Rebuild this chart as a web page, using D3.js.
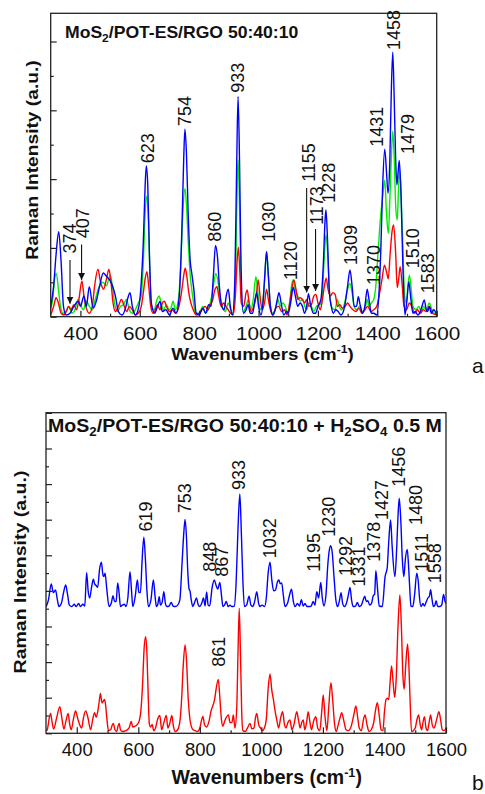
<!DOCTYPE html>
<html>
<head>
<meta charset="utf-8">
<script src="https://cdnjs.cloudflare.com/ajax/libs/d3/7.8.5/d3.min.js"></script>
<style>
    body { margin: 0; background: #fff; }
    svg { display: block; }
    .peak { font-family: "Liberation Sans", Arial, sans-serif; font-size: 18px; fill: #111; }
    .bold { font-family: "Liberation Sans", Arial, sans-serif; font-weight: bold; fill: #111; }
</style>
</head>
<body>
<div id="chart"></div>
<script>

// ---- panel a : three spectra, [wavenumber, intensity] ----
const topBlue = [[300,0.3],[310,0.9],[318,1.8],[327,2.47],[335,1.6],[343,0.3],[352,0.05],[365,0.1],[378,0.3],[393,0.45],[400,0.3],[412,0.6],[420,0.3],[430,0.87],[443,0.25],[455,0.5],[465,0.9],[477,1.27],[490,1.15],[500,1.05],[510,0.85],[518,0.6],[528,0.15],[540,0.05],[552,0.25],[560,0.55],[567,0.7],[575,0.3],[585,0.05],[597,0.3],[605,1.0],[612,2.2],[618,3.8],[622,4.38],[627,3.8],[632,2.0],[639,0.4],[650,0.1],[660,0.3],[668,0.44],[676,0.15],[688,0.2],[700,0.05],[712,0.25],[722,0.1],[733,0.6],[742,2.6],[748,4.6],[752,5.45],[757,4.8],[763,3.0],[770,1.6],[775,1.27],[782,0.8],[790,0.1],[800,0.05],[812,0.25],[822,0.1],[832,0.35],[840,0.3],[848,1.2],[855,2.07],[862,1.7],[868,0.9],[876,0.3],[884,0.2],[891,0.6],[898,0.8],[905,0.3],[912,0.05],[920,1.0],[926,4.2],[931,6.4],[936,4.5],[941,1.5],[949,0.1],[958,0.2],[965,0.35],[972,0.1],[980,0.1],[988,0.5],[994,0.7],[1000,0.3],[1008,0.05],[1015,0.4],[1021,1.2],[1027,1.89],[1033,1.2],[1040,0.3],[1048,0.05],[1056,0.2],[1062,0.45],[1069,0.7],[1076,0.4],[1085,0.05],[1095,0.15],[1100,0.1],[1108,0.4],[1117,0.85],[1124,0.6],[1132,0.3],[1140,0.4],[1148,0.3],[1155,0.1],[1162,0.3],[1168,0.67],[1175,0.35],[1185,0.1],[1192,0.1],[1200,0.3],[1210,0.5],[1218,1.5],[1224,2.8],[1227,3.1],[1232,2.3],[1238,0.8],[1245,0.3],[1252,0.1],[1260,0.2],[1268,0.15],[1278,0.05],[1290,0.3],[1300,0.9],[1308,1.36],[1315,0.9],[1322,0.3],[1330,0.3],[1336,0.58],[1342,0.35],[1350,0.1],[1358,0.3],[1366,0.8],[1372,0.5],[1380,0.1],[1388,0.1],[1398,0.05],[1405,0.6],[1412,2.0],[1418,3.8],[1425,4.87],[1431,4.2],[1436,3.59],[1442,4.5],[1447,6.5],[1452,7.69],[1457,6.3],[1462,4.5],[1466,3.83],[1470,4.2],[1474,4.54],[1480,3.5],[1486,1.5],[1493,0.05],[1500,0.5],[1506,1.02],[1512,0.6],[1520,0.1],[1528,0.15],[1536,0.05],[1545,0.15],[1552,0.35],[1558,0.49],[1565,0.2],[1570,0.15],[1575,0.3],[1582,0.1],[1590,0.2],[1600,0.05]];

const topGreen = [[300,0.2],[308,0.6],[313,1.1],[319,1.26],[326,0.8],[333,0.3],[342,0.1],[352,0.15],[362,0.3],[372,0.1],[382,0.2],[392,0.5],[400,0.35],[410,0.2],[420,0.45],[430,0.3],[440,0.2],[450,0.5],[462,0.85],[475,1.0],[488,0.9],[500,1.21],[508,0.9],[515,0.4],[525,0.15],[535,0.3],[545,0.35],[555,0.5],[565,0.2],[575,0.1],[585,0.2],[595,0.4],[605,0.6],[612,1.6],[618,3.0],[624,3.51],[629,2.8],[634,1.2],[640,0.3],[648,0.2],[658,0.5],[665,0.6],[672,0.4],[680,0.2],[690,0.35],[698,0.2],[705,0.25],[712,0.45],[720,0.2],[730,0.5],[738,1.5],[745,3.0],[752,3.73],[757,3.3],[763,2.2],[770,1.2],[778,0.6],[788,0.1],[800,0.1],[812,0.3],[822,0.1],[832,0.25],[840,0.5],[848,0.9],[856,1.26],[862,1.1],[870,0.6],[878,0.3],[888,0.15],[898,0.4],[906,0.2],[914,0.1],[922,1.0],[927,3.3],[931,4.56],[936,3.2],[941,1.0],[948,0.15],[958,0.3],[966,0.5],[974,0.2],[982,0.5],[991,1.16],[998,0.7],[1005,0.2],[1012,0.3],[1020,1.0],[1027,1.89],[1033,1.2],[1040,0.3],[1048,0.1],[1058,0.25],[1066,0.5],[1072,0.3],[1082,0.4],[1090,0.3],[1098,0.1],[1106,0.5],[1112,0.95],[1117,1.07],[1124,0.8],[1132,0.6],[1140,0.45],[1148,0.5],[1156,0.3],[1162,0.2],[1170,0.4],[1178,0.3],[1186,0.15],[1195,0.3],[1205,0.35],[1213,0.4],[1220,1.5],[1227,2.38],[1233,1.8],[1240,0.6],[1248,0.25],[1258,0.2],[1265,0.5],[1272,0.3],[1280,0.2],[1290,0.4],[1300,0.8],[1308,0.97],[1315,0.7],[1322,0.3],[1332,0.2],[1340,0.3],[1350,0.15],[1358,0.2],[1366,0.5],[1372,0.3],[1380,0.4],[1388,0.5],[1395,0.9],[1402,1.8],[1410,2.8],[1418,3.5],[1425,3.97],[1431,3.0],[1437,2.42],[1443,3.6],[1448,4.8],[1452,5.4],[1457,4.6],[1462,3.2],[1467,2.81],[1471,3.6],[1475,4.3],[1480,3.6],[1486,2.0],[1492,0.6],[1498,0.4],[1503,0.9],[1508,1.21],[1514,0.8],[1520,0.3],[1530,0.2],[1540,0.3],[1548,0.15],[1556,0.3],[1565,0.2],[1575,0.4],[1582,0.25],[1590,0.1],[1600,0.1]];

const topRed = [[300,0.05],[310,0.3],[318,0.55],[326,0.4],[335,0.1],[345,0.05],[352,0.15],[360,0.3],[368,0.2],[378,0.35],[387,0.2],[395,0.5],[405,1.04],[412,0.6],[420,0.25],[430,0.1],[440,0.3],[448,0.9],[459,1.38],[468,1.0],[478,0.8],[488,1.1],[496,1.38],[503,1.0],[510,0.4],[518,0.15],[528,0.3],[538,0.5],[548,0.3],[556,0.15],[565,0.3],[575,0.2],[585,0.05],[595,0.1],[605,0.3],[612,0.7],[618,1.1],[624,1.31],[630,0.9],[637,0.3],[645,0.1],[652,0.2],[660,0.35],[668,0.2],[676,0.4],[683,0.45],[690,0.3],[700,0.15],[710,0.2],[720,0.1],[732,0.3],[742,0.8],[748,1.2],[753,1.41],[758,1.2],[765,0.7],[772,0.4],[780,0.2],[790,0.05],[800,0.1],[810,0.2],[820,0.3],[830,0.2],[838,0.35],[846,0.5],[852,0.75],[860,0.87],[866,0.6],[874,0.3],[882,0.4],[890,0.3],[898,0.2],[906,0.1],[914,0.05],[922,0.6],[927,1.5],[932,2.02],[937,1.3],[942,0.4],[950,0.3],[958,0.7],[962,0.78],[968,0.4],[975,0.15],[984,0.3],[992,0.6],[999,1.07],[1005,0.6],[1012,0.2],[1020,0.4],[1027,0.8],[1033,0.5],[1040,0.2],[1048,0.05],[1058,0.25],[1068,0.3],[1078,0.15],[1088,0.2],[1096,0.05],[1105,0.4],[1112,0.8],[1119,1.07],[1126,0.8],[1133,0.5],[1140,0.55],[1148,0.5],[1155,0.4],[1162,0.5],[1170,0.3],[1178,0.35],[1186,0.6],[1193,0.65],[1200,0.4],[1208,0.2],[1215,0.5],[1222,0.9],[1228,1.12],[1234,0.8],[1242,0.6],[1250,0.7],[1258,0.65],[1266,0.3],[1274,0.35],[1282,0.25],[1292,0.3],[1300,0.4],[1308,0.3],[1318,0.2],[1328,0.15],[1338,0.25],[1348,0.1],[1358,0.2],[1368,0.3],[1378,0.15],[1388,0.2],[1398,0.3],[1408,0.7],[1416,1.1],[1424,1.5],[1431,1.3],[1437,1.1],[1443,1.8],[1450,2.5],[1455,2.67],[1462,1.8],[1467,0.85],[1472,1.1],[1477,1.45],[1483,1.0],[1490,0.3],[1498,0.2],[1508,0.4],[1516,0.3],[1525,0.1],[1535,0.2],[1545,0.1],[1555,0.2],[1565,0.15],[1575,0.3],[1585,0.1],[1600,0.05]];

// peak labels panel a: [text, wavenumber, intensity where text starts]
const topPeakLabels = [["374",362,1.84],["407",407,2.28],["623",626,4.46],["754",751,5.54],["860",851,2.18],["933",929,6.51],["1030",1035,2.18],["1120",1106,1.07],["1155",1168,3.92],["1173",1194,2.67],["1228",1236,3.31],["1309",1311,1.5],["1370",1387,0.92],["1431",1398,4.94],["1458",1453,7.75],["1479",1502,4.73],["1510",1519,1.41],["1583",1569,0.68]];
// arrows panel a: [wavenumber, from, to]
const topArrows = [[365,1.65,0.38],[404,2.1,1.07],[1162,3.74,0.7],[1192,2.55,0.75]];

// ---- panel b : two spectra, blue offset upward ----
const botBlue = [[300,7.1],[308,7.5],[317,8.39],[324,7.9],[331,8.05],[337,7.5],[342,7.12],[350,7.3],[357,7.9],[364,8.33],[370,7.8],[376,7.2],[384,7.12],[392,7.25],[398,7.12],[406,7.3],[412,7.12],[420,7.25],[426,7.15],[432,9.02],[437,8.0],[442,7.6],[448,8.2],[454,8.65],[458,8.4],[463,8.3],[468,8.2],[474,9.2],[480,9.61],[485,8.9],[488,8.8],[492,9.0],[497,8.2],[505,7.12],[512,7.3],[518,7.73],[523,7.4],[528,7.4],[533,8.45],[538,7.8],[542,7.12],[548,7.2],[555,7.25],[560,7.12],[566,7.6],[573,9.08],[578,8.0],[582,7.12],[590,7.7],[597,8.61],[602,7.9],[607,7.9],[612,9.6],[618,11.01],[623,9.8],[628,8.0],[633,7.12],[641,7.5],[649,8.61],[655,7.6],[659,7.12],[664,7.3],[668,7.68],[672,7.2],[678,7.4],[683,7.96],[688,7.3],[693,7.12],[700,7.15],[707,7.35],[713,7.15],[720,7.12],[728,7.2],[735,7.5],[742,9.5],[748,11.3],[752,12.02],[756,11.2],[761,9.0],[765,8.1],[768,8.0],[772,7.5],[777,7.12],[782,7.3],[789,7.6],[795,7.2],[800,7.12],[806,7.3],[812,7.6],[817,7.15],[822,7.94],[827,7.2],[832,7.15],[840,8.2],[847,8.61],[853,8.3],[858,8.1],[865,8.47],[870,7.8],[875,7.12],[880,7.2],[886,7.4],[892,7.12],[898,7.2],[904,7.12],[912,7.15],[918,8.5],[924,11.5],[930,13.44],[935,11.2],[940,8.5],[945,7.12],[952,7.2],[960,7.7],[966,7.2],[972,7.12],[978,7.4],[985,7.96],[991,7.3],[995,7.12],[1002,7.2],[1010,7.12],[1016,7.6],[1022,9.0],[1028,9.61],[1034,8.6],[1040,8.0],[1046,8.05],[1052,8.5],[1057,8.61],[1061,8.4],[1066,8.45],[1071,7.8],[1077,7.12],[1085,7.3],[1092,7.8],[1098,8.1],[1104,7.4],[1110,7.12],[1117,7.3],[1124,7.15],[1130,7.5],[1136,7.15],[1142,7.3],[1148,7.12],[1155,7.12],[1162,7.15],[1168,7.4],[1174,7.2],[1180,7.96],[1186,7.6],[1193,8.47],[1198,7.6],[1203,7.15],[1210,7.8],[1216,9.5],[1222,10.4],[1225,10.54],[1230,10.2],[1236,8.8],[1242,7.5],[1248,7.12],[1253,7.4],[1259,7.9],[1264,7.3],[1270,7.12],[1278,7.4],[1283,7.8],[1288,8.2],[1293,7.5],[1298,7.12],[1306,7.15],[1312,7.35],[1318,7.12],[1325,7.2],[1331,7.5],[1336,7.7],[1341,7.4],[1346,7.45],[1352,7.2],[1358,7.3],[1364,7.75],[1368,7.8],[1372,9.13],[1378,8.0],[1383,7.15],[1393,7.12],[1402,8.8],[1409,9.3],[1414,10.8],[1420,11.98],[1425,10.5],[1434,8.8],[1440,10.5],[1444,12.2],[1448,13.2],[1453,12.0],[1458,9.8],[1463,8.8],[1468,9.8],[1474,10.33],[1478,9.5],[1482,8.2],[1486,7.15],[1492,7.12],[1498,7.8],[1505,9.0],[1510,8.5],[1514,7.6],[1519,7.12],[1525,7.3],[1530,7.15],[1536,7.4],[1541,7.6],[1546,7.7],[1550,8.06],[1554,7.6],[1559,7.12],[1564,7.2],[1568,7.45],[1573,7.12],[1580,7.12],[1586,7.2],[1592,7.8],[1597,7.4],[1600,7.3]];

const botRed = [[300,0.15],[304,0.2],[310,0.8],[315,1.12],[320,0.6],[325,0.24],[335,0.9],[345,1.5],[352,0.8],[358,0.24],[365,0.7],[372,1.12],[377,0.5],[382,0.2],[389,0.8],[396,1.25],[402,0.9],[409,0.5],[416,0.3],[422,0.9],[429,1.25],[436,0.9],[445,0.2],[452,0.8],[458,1.16],[463,0.9],[468,1.2],[473,1.8],[477,2.24],[482,1.7],[486,1.8],[490,1.9],[493,1.7],[498,0.8],[503,0.15],[510,0.2],[515,0.45],[519,0.56],[524,0.2],[530,0.1],[534,0.4],[538,0.56],[542,0.2],[548,0.1],[560,0.15],[570,0.3],[577,0.66],[582,0.35],[590,0.4],[597,0.5],[603,0.7],[608,1.2],[614,2.8],[619,4.8],[624,5.43],[628,4.5],[632,2.2],[636,0.5],[640,0.35],[645,0.5],[650,0.15],[656,0.3],[663,0.8],[670,1.0],[676,0.2],[683,0.6],[691,1.0],[696,0.3],[703,0.6],[709,1.0],[714,0.4],[720,0.1],[728,0.2],[736,0.8],[741,2.0],[746,3.8],[752,4.96],[757,4.0],[762,2.0],[767,0.9],[772,0.4],[778,0.2],[785,0.15],[792,0.1],[800,0.3],[805,0.7],[810,0.95],[815,0.5],[822,0.35],[830,0.7],[837,1.3],[843,1.59],[848,1.9],[853,2.5],[860,3.03],[865,2.0],[870,0.8],[875,0.4],[880,0.65],[886,0.9],[893,1.03],[898,0.6],[904,0.6],[909,1.03],[914,0.3],[920,1.5],[924,4.5],[928,7.02],[932,4.5],[936,1.2],[940,0.15],[948,0.1],[955,0.3],[963,0.56],[969,0.25],[976,0.3],[981,0.9],[985,1.12],[991,0.5],[997,0.3],[1003,0.15],[1010,0.3],[1016,0.8],[1022,2.5],[1028,3.33],[1034,2.4],[1039,1.9],[1045,1.2],[1050,0.75],[1056,0.3],[1063,0.9],[1069,1.21],[1075,0.5],[1080,0.3],[1086,0.6],[1093,0.75],[1099,0.2],[1106,0.5],[1115,1.21],[1121,0.7],[1126,0.3],[1131,0.6],[1136,0.75],[1141,0.2],[1147,0.6],[1152,1.21],[1158,0.6],[1163,0.2],[1170,0.7],[1177,0.93],[1183,0.3],[1190,0.15],[1196,1.2],[1201,2.15],[1207,0.9],[1213,0.15],[1219,1.5],[1226,2.84],[1232,1.8],[1238,0.5],[1243,0.1],[1250,0.5],[1256,0.9],[1261,1.16],[1268,0.7],[1275,0.2],[1282,0.15],[1290,0.3],[1300,1.0],[1307,1.53],[1313,0.9],[1318,0.3],[1325,0.15],[1332,0.8],[1337,1.03],[1343,0.5],[1350,0.1],[1357,0.2],[1365,0.6],[1371,1.3],[1377,1.72],[1383,1.0],[1389,0.2],[1395,0.15],[1400,1.2],[1405,1.9],[1409,1.97],[1414,1.9],[1418,2.8],[1423,3.78],[1428,2.9],[1433,2.02],[1438,3.0],[1444,6.0],[1450,7.77],[1455,6.0],[1460,3.2],[1464,2.47],[1469,3.8],[1475,5.02],[1479,4.0],[1483,2.0],[1488,0.1],[1494,0.15],[1500,0.3],[1506,0.8],[1511,1.03],[1516,0.5],[1521,0.2],[1525,0.6],[1530,0.93],[1535,0.3],[1540,0.15],[1545,0.6],[1550,1.03],[1555,0.5],[1560,0.3],[1564,0.4],[1570,0.8],[1577,1.21],[1583,0.7],[1588,0.2],[1594,0.15],[1600,0.3]];

const botPeakLabels = [["619",624,11.33],["753",751,12.36],["848",830,9.08],["867",871,8.8],["933",927,13.67],["1032",1025,9.83],["1195",1169,9.08],["1230",1217,11.04],["1292",1272,8.84],["1331",1317,8.24],["1378",1364,9.64],["1427",1391,11.98],["1456",1447,13.85],["1480",1502,11.7],["1511",1521,9.08],["1558",1564,8.43],["861",860,3.74]];

const xMajor = [400, 600, 800, 1000, 1200, 1400, 1600];
const xMinor = [500, 700, 900, 1100, 1300, 1500];


let svg = d3.select("#chart").append("svg")
    .attr("width", 485)
    .attr("height", 794);

// arrow head for the little pointers in panel a
svg.append("defs").append("marker")
    .attr("id", "head")
    .attr("viewBox", "0 0 10 10")
    .attr("refX", 10).attr("refY", 5)
    .attr("markerWidth", 7).attr("markerHeight", 7)
    .attr("markerUnits", "userSpaceOnUse")
    .attr("orient", "auto")
    .append("path")
    .attr("d", "M0,0 L10,5 L0,10 Z")
    .attr("fill", "#111");


function drawPanel(p) {
    let g = svg.append("g");

    let x = d3.scaleLinear().domain([300, 1600]).range([p.left, p.right]);
    let y = d3.scaleLinear().domain([0, p.ymax]).range([p.bottom, p.top]);

    // clip so curves stay in the frame
    g.append("clipPath").attr("id", p.id + "clip")
        .append("rect")
        .attr("x", p.left).attr("y", p.top)
        .attr("width", p.right - p.left).attr("height", p.bottom - p.top);

    let line = d3.line()
        .x(d => x(d[0]))
        .y(d => y(d[1]))
        .curve(d3.curveMonotoneX);

    let curves = g.append("g").attr("clip-path", `url(#${p.id}clip)`);
    p.series.forEach(s => {
        curves.append("path")
            .datum(s.data)
            .attr("d", line)
            .attr("fill", "none")
            .attr("stroke", s.color)
            .attr("stroke-width", 1.4)
            .attr("stroke-linejoin", "round");
    });

    // x axis, ticks pointing in
    let xAx = g.append("g")
        .attr("transform", `translate(0,${p.bottom})`)
        .call(d3.axisBottom(x).tickValues(xMajor).tickFormat(d3.format("d"))
            .tickSizeInner(-6).tickSizeOuter(0).tickPadding(10));
    xAx.select(".domain").remove();
    xAx.selectAll("line").attr("stroke", "#222").attr("stroke-width", 1.2);
    xAx.selectAll("text")
        .attr("fill", "#111")
        .style("font-family", "Liberation Sans, Arial, sans-serif")
        .style("font-size", "18.5px")
        .attr("transform", `scale(${p.sx},1)`);

    let xMin = g.append("g")
        .attr("transform", `translate(0,${p.bottom})`)
        .call(d3.axisBottom(x).tickValues(xMinor).tickSizeInner(-3).tickSizeOuter(0).tickFormat(""));
    xMin.select(".domain").remove();
    xMin.selectAll("line").attr("stroke", "#222").attr("stroke-width", 1.2);

    // y axis, no labels
    let yMaj = d3.range(0, p.ymax, 2);
    let yMin = d3.range(1, p.ymax, 2);
    let yAx = g.append("g")
        .attr("transform", `translate(${p.left},0)`)
        .call(d3.axisLeft(y).tickValues(yMaj).tickSizeInner(-6).tickSizeOuter(0).tickFormat(""));
    yAx.select(".domain").remove();
    yAx.selectAll("line").attr("stroke", "#222").attr("stroke-width", 1.2);
    let yAx2 = g.append("g")
        .attr("transform", `translate(${p.left},0)`)
        .call(d3.axisLeft(y).tickValues(yMin).tickSizeInner(-3).tickSizeOuter(0).tickFormat(""));
    yAx2.select(".domain").remove();
    yAx2.selectAll("line").attr("stroke", "#222").attr("stroke-width", 1.2);

    // frame
    g.append("rect")
        .attr("x", p.left).attr("y", p.top)
        .attr("width", p.right - p.left).attr("height", p.bottom - p.top)
        .attr("fill", "none")
        .attr("stroke", "#222")
        .attr("stroke-width", 1.3);

    // peak labels, rotated
    g.selectAll(".peak" + p.id)
        .data(p.labels)
        .enter().append("text")
        .attr("class", "peak")
        .attr("transform", d => `translate(${x(d[1])},${y(d[2])}) rotate(-90)`)
        .attr("dy", "0.36em")
        .text(d => d[0]);

    // arrows
    g.selectAll(".arrow" + p.id)
        .data(p.arrows)
        .enter().append("line")
        .attr("x1", d => x(d[0])).attr("x2", d => x(d[0]))
        .attr("y1", d => y(d[1])).attr("y2", d => y(d[2]))
        .attr("stroke", "#111")
        .attr("stroke-width", 1.1)
        .attr("marker-end", "url(#head)");

    // title in the frame, subscripts shift down then back up on next part
    let t = g.append("text")
        .attr("class", "bold")
        .attr("transform", `translate(${p.titleX},${p.titleY}) scale(${p.titleSx},1)`)
        .style("font-size", p.titleSize + "px");
    let back = 0;
    p.title.forEach(part => {
        if (part.sub) {
            t.append("tspan").attr("dy", 4 - back).style("font-size", (p.titleSize * 0.68) + "px").text(part.s);
            back = 4;
        } else {
            t.append("tspan").attr("dy", -back).text(part.s);
            back = 0;
        }
    });

    // x axis title
    let xt = g.append("text")
        .attr("class", "bold")
        .attr("text-anchor", "middle")
        .attr("transform", `translate(${p.xTitle[0]},${p.xTitle[1]}) scale(${p.xTitle[3]},1)`)
        .style("font-size", p.xTitle[2] + "px");
    xt.append("tspan").text("Wavenumbers (cm");
    xt.append("tspan").attr("dy", -7).style("font-size", (p.xTitle[2] * 0.65) + "px").text("-1");
    xt.append("tspan").attr("dy", 7).text(")");

    // y axis title
    g.append("text")
        .attr("class", "bold")
        .attr("text-anchor", "middle")
        .attr("transform", `translate(${p.yTitle[0]},${p.yTitle[1]}) rotate(-90) scale(${p.yTitle[2]},1)`)
        .style("font-size", "17px")
        .text("Raman Intensity (a.u.)");

    // panel letter
    g.append("text")
        .attr("x", p.letter[1]).attr("y", p.letter[2])
        .style("font-family", "Liberation Sans, Arial, sans-serif")
        .style("font-size", "21px")
        .attr("fill", "#111")
        .text(p.letter[0]);
}


drawPanel({
    id: "a",
    left: 50.7, right: 436.7, top: 13.3, bottom: 316.7, ymax: 8.82,
    sx: 1.12,
    series: [
        {data: topGreen, color: "#00ee00"},
        {data: topRed, color: "#ff0000"},
        {data: topBlue, color: "#0000ff"}
    ],
    labels: topPeakLabels,
    arrows: topArrows,
    title: [{s: "MoS"}, {s: "2", sub: true}, {s: "/POT-ES/RGO 50:40:10"}],
    titleX: 65, titleY: 37.7, titleSize: 16, titleSx: 1.1,
    xTitle: [262.5, 360, 17, 1.1],
    yTitle: [37.5, 160, 1.13],
    letter: ["a", 472, 373]
});

drawPanel({
    id: "b",
    left: 46, right: 446, top: 412.7, bottom: 733.3, ymax: 18.01,
    sx: 1.0,
    series: [
        {data: botRed, color: "#ff0000"},
        {data: botBlue, color: "#0000ff"}
    ],
    labels: botPeakLabels,
    arrows: [],
    title: [{s: "MoS"}, {s: "2", sub: true}, {s: "/POT-ES/RGO 50:40:10 + H"}, {s: "2", sub: true},
        {s: "SO"}, {s: "4", sub: true}, {s: " 0.5 M"}],
    titleX: 48, titleY: 431.7, titleSize: 17.5, titleSx: 1.12,
    xTitle: [266.7, 784, 19.5, 1.0],
    yTitle: [26, 572, 1.15],
    letter: ["b", 472, 790]
});

</script>
</body>
</html>
